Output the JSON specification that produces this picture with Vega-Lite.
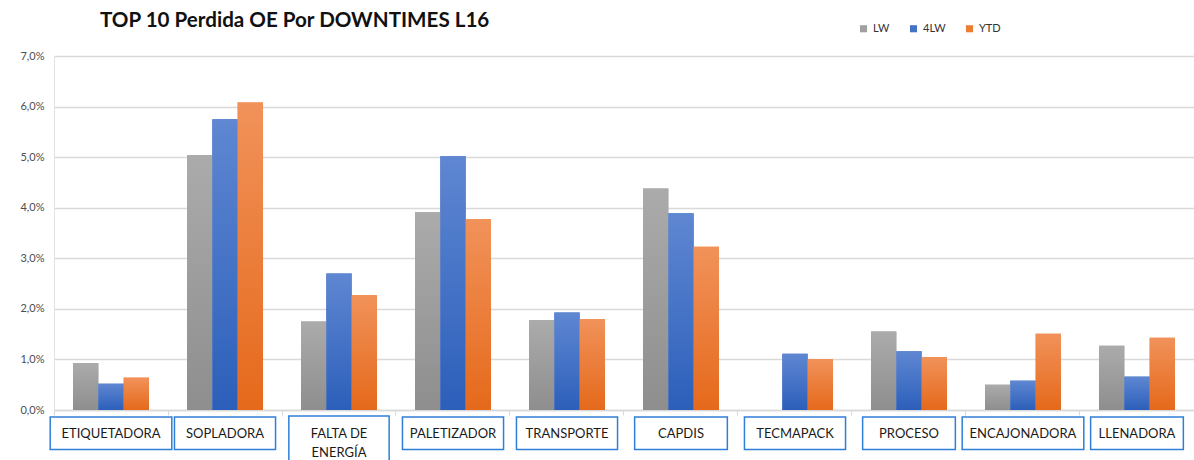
{
  "$schema": "https://vega.github.io/schema/vega-lite/v6.json",
  "width": 1140,
  "height": 354,
  "autosize": {"type": "none"},
  "padding": {"left": 54, "top": 56, "right": 0, "bottom": 50},
  "background": "white",
  "title": {
    "text": "TOP 10 Perdida OE Por DOWNTIMES L16",
    "anchor": "start",
    "frame": "group",
    "dx": 46,
    "offset": -9,
    "font": "Lato",
    "fontSize": 20.6,
    "fontWeight": "bold",
    "color": "#111111"
  },
  "config": {
    "view": {"stroke": null}
  },
  "datasets": {
    "barras": [
      {"categoria": "ETIQUETADORA", "serie": "LW", "valor": 0.93},
      {"categoria": "ETIQUETADORA", "serie": "4LW", "valor": 0.52},
      {"categoria": "ETIQUETADORA", "serie": "YTD", "valor": 0.64},
      {"categoria": "SOPLADORA", "serie": "LW", "valor": 5.04},
      {"categoria": "SOPLADORA", "serie": "4LW", "valor": 5.75},
      {"categoria": "SOPLADORA", "serie": "YTD", "valor": 6.08},
      {"categoria": "FALTA DE ENERGÍA", "serie": "LW", "valor": 1.75},
      {"categoria": "FALTA DE ENERGÍA", "serie": "4LW", "valor": 2.70},
      {"categoria": "FALTA DE ENERGÍA", "serie": "YTD", "valor": 2.27},
      {"categoria": "PALETIZADOR", "serie": "LW", "valor": 3.91},
      {"categoria": "PALETIZADOR", "serie": "4LW", "valor": 5.02},
      {"categoria": "PALETIZADOR", "serie": "YTD", "valor": 3.77},
      {"categoria": "TRANSPORTE", "serie": "LW", "valor": 1.78},
      {"categoria": "TRANSPORTE", "serie": "4LW", "valor": 1.93},
      {"categoria": "TRANSPORTE", "serie": "YTD", "valor": 1.80},
      {"categoria": "CAPDIS", "serie": "LW", "valor": 4.38},
      {"categoria": "CAPDIS", "serie": "4LW", "valor": 3.89},
      {"categoria": "CAPDIS", "serie": "YTD", "valor": 3.23},
      {"categoria": "TECMAPACK", "serie": "LW", "valor": 0},
      {"categoria": "TECMAPACK", "serie": "4LW", "valor": 1.11},
      {"categoria": "TECMAPACK", "serie": "YTD", "valor": 1.01},
      {"categoria": "PROCESO", "serie": "LW", "valor": 1.55},
      {"categoria": "PROCESO", "serie": "4LW", "valor": 1.16},
      {"categoria": "PROCESO", "serie": "YTD", "valor": 1.05},
      {"categoria": "ENCAJONADORA", "serie": "LW", "valor": 0.50},
      {"categoria": "ENCAJONADORA", "serie": "4LW", "valor": 0.58},
      {"categoria": "ENCAJONADORA", "serie": "YTD", "valor": 1.51},
      {"categoria": "LLENADORA", "serie": "LW", "valor": 1.27},
      {"categoria": "LLENADORA", "serie": "4LW", "valor": 0.66},
      {"categoria": "LLENADORA", "serie": "YTD", "valor": 1.43}
    ],
    "categorias": [
      {"categoria": "ETIQUETADORA", "etiqueta": "ETIQUETADORA"},
      {"categoria": "SOPLADORA", "etiqueta": "SOPLADORA"},
      {"categoria": "FALTA DE ENERGÍA", "etiqueta": "FALTA DE\nENERGÍA"},
      {"categoria": "PALETIZADOR", "etiqueta": "PALETIZADOR"},
      {"categoria": "TRANSPORTE", "etiqueta": "TRANSPORTE"},
      {"categoria": "CAPDIS", "etiqueta": "CAPDIS"},
      {"categoria": "TECMAPACK", "etiqueta": "TECMAPACK"},
      {"categoria": "PROCESO", "etiqueta": "PROCESO"},
      {"categoria": "ENCAJONADORA", "etiqueta": "ENCAJONADORA"},
      {"categoria": "LLENADORA", "etiqueta": "LLENADORA"}
    ]
  },
  "layer": [
    {
      "data": {"name": "barras"},
      "mark": {"type": "bar"},
      "encoding": {
        "x": {
          "field": "categoria", "type": "nominal", "sort": null,
          "scale": {"paddingInner": 0.3333, "paddingOuter": 0.1667},
          "axis": {
            "title": null, "labels": false, "ticks": true, "tickSize": 5,
            "tickColor": "#d9d9d9", "domainColor": "#d9d9d9", "domainWidth": 1.5,
            "bandPosition": -0.25, "grid": false
          }
        },
        "xOffset": {"field": "serie", "type": "nominal", "sort": ["LW", "4LW", "YTD"], "scale": {"paddingInner": 0}},
        "y": {
          "field": "valor", "type": "quantitative",
          "scale": {"domain": [0, 7], "nice": false},
          "axis": {
            "title": null, "values": [0, 1, 2, 3, 4, 5, 6, 7],
            "labelExpr": "replace(format(datum.value, '.1f'), '.', ',') + '%'",
            "ticks": false, "labelPadding": 10, "labelFontSize": 11,
            "labelColor": "#4d4d4d", "labelFont": "Lato",
            "domain": true, "domainColor": "#e3e3e3",
            "grid": true, "gridColor": "#d9d9d9", "gridWidth": 1.5
          }
        },
        "color": {
          "field": "serie", "type": "nominal",
          "scale": {"domain": ["LW", "4LW", "YTD"], "range": ["#a0a0a0", "#4472c4", "#ed7d31"]},
          "legend": {
            "orient": "none", "legendX": 804, "legendY": -33,
            "direction": "horizontal", "title": null,
            "symbolType": "square", "symbolSize": 50, "symbolStrokeWidth": 0,
            "labelFontSize": 11, "labelFont": "Lato", "labelColor": "#333333",
            "columnPadding": 18, "labelOffset": 4
          }
        }
      }
    },
    {
      "data": {"name": "barras"},
      "mark": {"type": "bar"},
      "encoding": {
        "x": {"field": "categoria", "type": "nominal", "sort": null},
        "xOffset": {"field": "serie", "type": "nominal", "sort": ["LW", "4LW", "YTD"]},
        "y": {"field": "valor", "type": "quantitative"},
        "fill": {
          "condition": [
            {"test": "datum.serie === 'LW'", "value": {"gradient": "linear", "x1": 0, "y1": 0, "x2": 0, "y2": 1, "stops": [{"offset": 0, "color": "#ababab"}, {"offset": 1, "color": "#8e8e8e"}]}},
            {"test": "datum.serie === '4LW'", "value": {"gradient": "linear", "x1": 0, "y1": 0, "x2": 0, "y2": 1, "stops": [{"offset": 0, "color": "#5f87d2"}, {"offset": 1, "color": "#2c5fba"}]}}
          ],
          "value": {"gradient": "linear", "x1": 0, "y1": 0, "x2": 0, "y2": 1, "stops": [{"offset": 0, "color": "#f1925a"}, {"offset": 1, "color": "#e5691b"}]}
        }
      }
    },
    {
      "data": {"name": "categorias"},
      "transform": [{"filter": {"field": "categoria", "oneOf": ["ETIQUETADORA", "ENCAJONADORA"]}}],
      "mark": {"type": "bar", "width": {"band": 1.6}, "fill": "white", "stroke": "#2f7fd8", "strokeWidth": 1.5},
      "encoding": {
        "x": {"field": "categoria", "type": "nominal", "sort": null},
        "y": {"datum": -0.14, "type": "quantitative"},
        "y2": {"datum": -0.78}
      }
    },
    {
      "data": {"name": "categorias"},
      "transform": [{"filter": {"field": "categoria", "oneOf": ["SOPLADORA", "PALETIZADOR", "TRANSPORTE", "TECMAPACK"]}}],
      "mark": {"type": "bar", "width": {"band": 1.33}, "fill": "white", "stroke": "#2f7fd8", "strokeWidth": 1.5},
      "encoding": {
        "x": {"field": "categoria", "type": "nominal", "sort": null},
        "y": {"datum": -0.14, "type": "quantitative"},
        "y2": {"datum": -0.78}
      }
    },
    {
      "data": {"name": "categorias"},
      "transform": [{"filter": {"field": "categoria", "oneOf": ["CAPDIS", "PROCESO", "LLENADORA"]}}],
      "mark": {"type": "bar", "width": {"band": 1.22}, "fill": "white", "stroke": "#2f7fd8", "strokeWidth": 1.5},
      "encoding": {
        "x": {"field": "categoria", "type": "nominal", "sort": null},
        "y": {"datum": -0.14, "type": "quantitative"},
        "y2": {"datum": -0.78}
      }
    },
    {
      "data": {"name": "categorias"},
      "transform": [{"filter": "datum.categoria === 'FALTA DE ENERGÍA'"}],
      "mark": {"type": "bar", "width": {"band": 1.32}, "fill": "white", "stroke": "#2f7fd8", "strokeWidth": 1.5},
      "encoding": {
        "x": {"field": "categoria", "type": "nominal", "sort": null},
        "y": {"datum": -0.12, "type": "quantitative"},
        "y2": {"datum": -1.2}
      }
    },
    {
      "data": {"name": "categorias"},
      "mark": {"type": "text", "lineBreak": "\n", "font": "Lato", "fontSize": 13, "color": "#1a1a1a", "baseline": "middle", "align": "center", "lineHeight": 19},
      "encoding": {
        "x": {"field": "categoria", "type": "nominal", "sort": null},
        "y": {"datum": -0.48, "type": "quantitative"},
        "text": {"field": "etiqueta"}
      }
    }
  ]
}
